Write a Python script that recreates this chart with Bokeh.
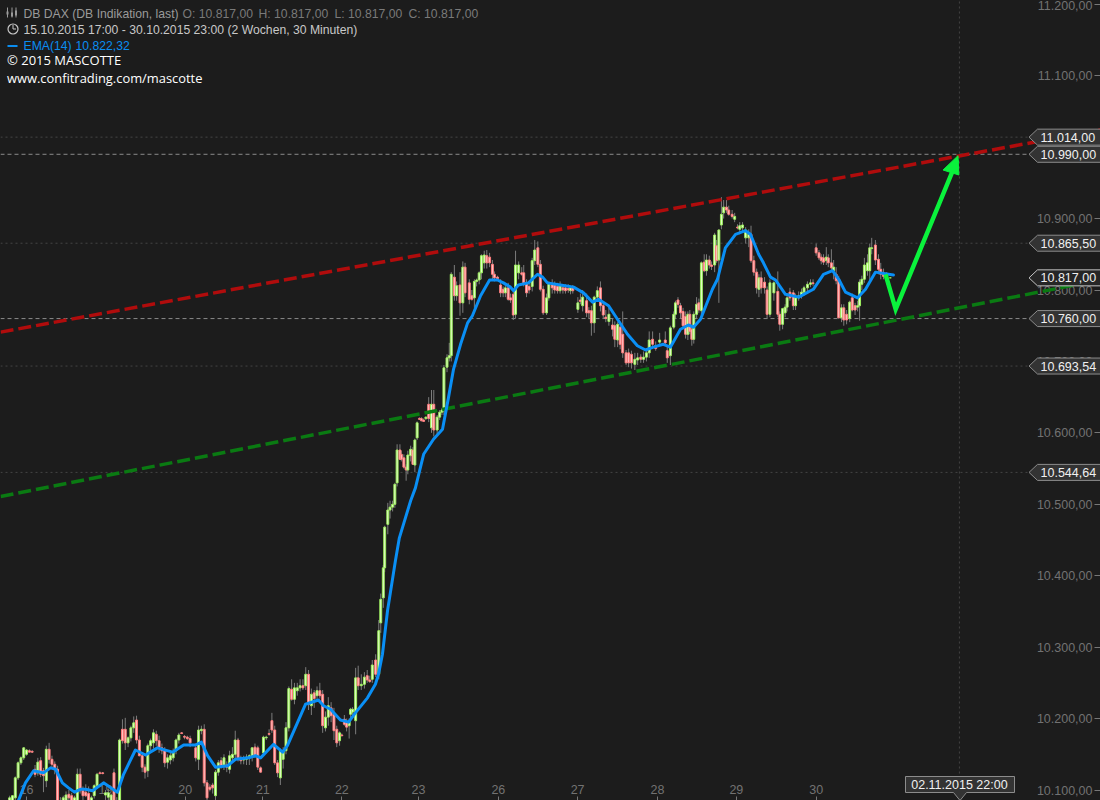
from bokeh.plotting import figure
from bokeh.embed import file_html
from bokeh.resources import INLINE
from bokeh.models import Range1d, LinearAxis, FixedTicker, Label, Span, ColumnDataSource

# ---- tick values and labels
price_ticks = [10100, 10200, 10300, 10400, 10500, 10600, 10700, 10800, 10900, 11000, 11100, 11200]
price_labels = ["10.100,00", "10.200,00", "10.300,00", "10.400,00", "10.500,00", "10.600,00",
                "10.700,00", "10.800,00", "10.900,00", "", "11.100,00", "11.200,00"]
day_ticks = [8, 36, 64.3, 91.8, 119.8, 147, 175.3, 203.4, 231.7, 259.7, 288]
day_labels = ["16", "19", "20", "21", "22", "23", "26", "27", "28", "29", "30"]

# ---- level tags
dotted_levels = [11014.00, 10865.50, 10693.54, 10544.64]
dashed_levels = [10990.00, 10760.00]
tag_values = [11014.00, 10990.00, 10865.50, 10760.00, 10693.54, 10544.64]
tag_labels = ["11.014,00", "10.990,00", "10.865,50", "10.760,00", "10.693,54", "10.544,64"]
last_value = 10817.00
last_label = "10.817,00"

# ---- 30 minute candles
bars = [2,3,4,5,6,7,8,9,10,11,
        12,13,14,15,16,17,18,19,20,21,
        22,23,24,25,26,27,28,29,30,31,
        32,33,34,35,36,37,38,39,40,41,
        42,43,44,45,46,47,48,49,50,51,
        52,53,54,55,56,57,58,59,60,61,
        62,63,64,65,66,
        68,69,70,71,72,73,74,75,76,77,
        78,79,80,81,82,83,84,85,86,87,
        88,89,90,91,92,93,94,95,96,97,
        98,99,100,101,102,103,104,105,106,107,
        108,109,110,111,112,113,114,115,116,117,
        118,119,119.8,120.7,121.5,122.4,122.9,123.6,124.7,125.6,
        126.7,127.8,128.8,129.7,130.6,131.8,132.9,133.6,134.5,135,
        136.1,136.9,137.8,138.6,139.4,140.4,140.9,141.8,142.6,143.2,
        144.2,145,145.7,146.5,147.3,148,148.8,149.6,150.6,151.6,
        152.4,153.6,154.5,155.3,156,157.1,157.9,158.6,159.7,160.5,
        161.7,162.7,163.5,165,165.9,166.8,167.6,168.5,169.3,170.3,
        171.2,172.2,173.2,173.9,175,176.1,177,177.8,178.8,179.6,
        180.6,181.4,182.5,183.6,184.3,185.3,186.2,187.3,188.2,189.3,
        190.2,191.2,192.4,193.2,194.4,195.3,196.3,197.2,198.2,199.1,
        200.1,200.9,201.7,203.5,204.4,205.2,206.6,207.4,208.3,209.3,
        210.4,211.5,212.5,213.4,214.5,215.8,216.6,217.6,218.5,219.4,
        220.6,221.5,222.5,223.7,224.7,225.8,226.8,227.8,228.8,230,
        231.1,232.5,234.5,235.2,236.3,237.5,238.1,239,239.9,240.8,
        241.7,242.5,243.2,243.9,244.6,245.6,246.4,247.3,248.3,249.1,
        250.1,250.9,252,252.7,253.5,254.4,255.2,256.2,257,258.2,
        259.1,260.1,260.9,261.9,263,264.1,264.9,265.9,266.9,267.7,
        268.5,269.7,270.6,271.6,273,274.4,275.1,276.1,277,277.7,
        278.7,279.9,280.7,281.8,282.8,283.7,284.9,286,286.9,288,
        289,289.8,290.6,291.6,292.3,293.4,294.2,295.1,296,297,
        297.8,298.8,299.9,300.8,301.8,302.7,303.4,304.2,305.1,306.2,
        307,307.7,309,310.1,310.9,311.9,313,314.3]

opens = [10083,10085,10089,10117,10138,10145,10150,10155,10154,10129,
         10124,10141,10127,10113,10157,10143,10136,10129,10085,10076,
         10085,10094,10092,10073,10085,10122,10099,10097,10095,10078,
         10092,10106,10124,10124,10093,10090,10085,10124,10085,10078,
         10185,10185,10166,10173,10187,10198,10170,10148,10132,10127,
         10162,10166,10178,10169,10159,10155,10139,10142,10145,10155,
         10170,10180,10175,10174,10172,
         10159,10143,10183,10185,10110,10104,10107,10092,10125,10141,
         10135,10135,10129,10145,10150,10170,10145,10142,10143,10145,
         10148,10160,10159,10131,10152,10173,10179,10197,10184,10138,
         10117,10143,10155,10187,10241,10227,10239,10243,10246,10246,
         10262,10218,10236,10232,10239,10234,10187,10202,10215,10206,
         10185,10169,10177,10199,10194,10190,10206,10209,10197,10257,
         10246,10248,10260,10254,10255,10282,10262,10334,10369,10411,
         10472,10492,10496,10500,10530,10576,10570,10565,10552,10548,
         10568,10576,10555,10593,10620,10620,10618,10620,10640,10607,
         10640,10604,10622,10629,10631,10692,10705,10708,10818,10792,
         10807,10782,10832,10810,10792,10789,10812,10814,10824,10838,
         10848,10846,10836,10822,10818,10807,10801,10796,10803,10789,
         10794,10766,10824,10824,10824,10810,10805,10805,10841,10859,
         10836,10801,10768,10789,10808,10807,10805,10799,10803,10803,
         10802,10799,10803,10773,10786,10778,10785,10771,10771,10754,
         10790,10803,10778,10762,10756,10751,10750,10730,10748,10738,
         10712,10712,10710,10696,10702,10706,10703,10706,10712,10731,
         10722,10727,10730,10715,10708,10748,10766,10786,10778,10770,
         10763,10738,10766,10745,10731,10766,10782,10771,10839,10827,
         10842,10835,10835,10862,10842,10891,10908,10916,10912,10906,
         10899,10888,10885,10887,10873,10873,10878,10841,10825,10801,
         10817,10811,10800,10766,10796,10798,10766,10752,10768,10776,
         10797,10796,10778,10789,10792,10797,10803,10808,10810,10859,
         10852,10846,10845,10841,10845,10838,10827,10822,10815,10761,
         10775,10766,10760,10789,10778,10776,10778,10808,10815,10827,
         10827,10858,10863,10843,10829,10822,10818,10817]

highs = [10092,10093,10119,10140,10147,10160,10157,10157,10156,10135,
         10145,10146,10131,10162,10166,10148,10140,10134,10090,10092,
         10098,10100,10096,10092,10130,10130,10105,10108,10105,10092,
         10108,10124,10126,10125,10100,10102,10095,10130,10090,10172,
         10199,10201,10175,10190,10203,10204,10176,10152,10136,10165,
         10172,10185,10183,10176,10165,10160,10150,10153,10158,10172,
         10180,10181,10177,10176,10176,
         10165,10190,10190,10192,10114,10108,10110,10128,10142,10146,
         10150,10140,10155,10160,10183,10173,10148,10148,10150,10150,
         10160,10165,10162,10133,10176,10176,10185,10208,10190,10142,
         10158,10160,10195,10245,10255,10250,10250,10255,10255,10272,
         10268,10242,10240,10245,10250,10240,10210,10230,10223,10215,
         10190,10182,10179,10205,10200,10200,10215,10216,10271,10274,
         10262,10265,10268,10260,10282,10290,10338,10375,10415,10470,
         10502,10505,10505,10530,10584,10584,10575,10570,10556,10575,
         10582,10580,10592,10616,10622,10622,10620,10623,10650,10660,
         10660,10625,10632,10635,10695,10710,10726,10825,10835,10812,
         10825,10840,10838,10815,10800,10815,10816,10826,10850,10855,
         10856,10852,10842,10826,10820,10815,10805,10808,10810,10795,
         10798,10855,10840,10832,10835,10815,10810,10845,10870,10868,
         10842,10806,10795,10812,10815,10812,10810,10812,10808,10808,
         10808,10806,10807,10790,10795,10800,10795,10776,10778,10792,
         10805,10812,10782,10772,10775,10760,10756,10755,10755,10770,
         10716,10718,10715,10712,10712,10710,10714,10716,10742,10742,
         10728,10740,10742,10722,10750,10770,10785,10790,10782,10775,
         10770,10770,10772,10750,10770,10790,10788,10840,10850,10850,
         10848,10840,10880,10870,10885,10930,10926,10926,10918,10912,
         10908,10892,10895,10895,10888,10885,10890,10848,10830,10822,
         10826,10818,10805,10815,10812,10826,10770,10775,10780,10795,
         10803,10800,10795,10798,10802,10806,10812,10815,10815,10865,
         10856,10850,10850,10860,10850,10857,10842,10832,10820,10780,
         10780,10772,10785,10795,10782,10785,10815,10820,10845,10850,
         10865,10873,10870,10850,10838,10830,10825,10817]

lows = [10081,10084,10086,10114,10135,10142,10148,10153,10152,10118,
        10120,10118,10097,10104,10137,10132,10122,10075,10060,10070,
        10080,10085,10075,10068,10080,10095,10085,10090,10075,10072,
        10088,10102,10122,10122,10088,10086,10075,10075,10055,10070,
        10165,10156,10160,10168,10180,10165,10147,10125,10116,10118,
        10155,10158,10162,10152,10150,10132,10130,10136,10140,10150,
        10165,10179,10171,10170,10160,
        10140,10128,10178,10105,10080,10098,10095,10083,10120,10130,
        10128,10125,10123,10140,10142,10140,10136,10136,10135,10135,
        10140,10145,10128,10124,10150,10170,10176,10180,10135,10118,
        10107,10130,10150,10182,10225,10220,10232,10238,10240,10240,
        10212,10205,10215,10224,10228,10180,10182,10190,10195,10170,
        10160,10162,10175,10190,10182,10172,10200,10205,10178,10240,
        10240,10242,10250,10250,10250,10258,10255,10320,10355,10405,
        10458,10480,10490,10495,10525,10562,10560,10550,10533,10542,
        10560,10555,10545,10590,10618,10616,10616,10618,10615,10600,
        10595,10598,10618,10625,10625,10685,10700,10700,10785,10785,
        10764,10768,10790,10780,10785,10775,10805,10808,10815,10830,
        10830,10832,10815,10812,10815,10790,10790,10790,10785,10782,
        10758,10760,10815,10820,10805,10790,10795,10798,10835,10832,
        10798,10765,10765,10785,10795,10795,10795,10795,10795,10795,
        10796,10794,10795,10768,10780,10770,10762,10760,10736,10740,
        10785,10770,10760,10755,10750,10735,10720,10720,10717,10705,
        10695,10692,10690,10688,10695,10698,10698,10700,10705,10720,
        10715,10722,10722,10698,10695,10745,10760,10775,10760,10745,
        10732,10730,10738,10722,10725,10760,10768,10765,10825,10820,
        10830,10828,10825,10838,10782,10885,10900,10908,10904,10900,
        10895,10885,10878,10880,10865,10860,10838,10820,10795,10790,
        10795,10795,10760,10762,10785,10762,10743,10745,10762,10770,
        10785,10772,10772,10785,10788,10792,10798,10804,10806,10848,
        10842,10836,10835,10835,10832,10825,10815,10808,10760,10755,
        10750,10752,10755,10770,10765,10770,10757,10800,10810,10820,
        10810,10850,10835,10822,10815,10815,10812,10817]

closes = [10089,10092,10117,10138,10145,10159,10156,10153,10153,10122,
          10139,10122,10120,10157,10143,10136,10129,10082,10064,10089,
          10093,10089,10082,10089,10122,10099,10092,10092,10078,10089,
          10106,10122,10123,10123,10096,10096,10093,10082,10060,10170,
          10169,10166,10173,10187,10194,10170,10148,10132,10125,10162,
          10169,10180,10169,10159,10155,10138,10145,10148,10153,10170,
          10177,10179,10174,10172,10166,
          10145,10184,10185,10110,10089,10101,10103,10125,10138,10134,
          10145,10132,10148,10150,10170,10145,10141,10145,10146,10148,
          10159,10148,10132,10125,10174,10174,10178,10184,10138,10124,
          10155,10155,10187,10242,10227,10243,10243,10246,10243,10262,
          10220,10234,10228,10239,10232,10190,10202,10218,10204,10183,
          10166,10180,10176,10192,10188,10197,10213,10213,10257,10246,
          10248,10258,10254,10252,10275,10262,10323,10367,10411,10468,
          10492,10496,10500,10528,10576,10563,10563,10552,10548,10569,
          10577,10556,10590,10614,10619,10617,10616,10622,10620,10640,
          10604,10622,10629,10632,10691,10705,10708,10822,10792,10806,
          10782,10832,10796,10787,10787,10812,10814,10824,10848,10849,
          10838,10838,10822,10817,10816,10796,10796,10803,10787,10786,
          10765,10835,10835,10822,10810,10796,10800,10841,10856,10836,
          10801,10768,10789,10808,10803,10800,10799,10806,10800,10799,
          10800,10803,10799,10782,10784,10790,10768,10768,10754,10790,
          10799,10778,10765,10760,10766,10745,10731,10752,10724,10712,
          10698,10698,10698,10703,10705,10703,10706,10712,10730,10724,
          10718,10730,10726,10705,10747,10766,10782,10780,10768,10750,
          10738,10766,10742,10731,10766,10780,10772,10838,10827,10842,
          10835,10833,10877,10841,10884,10906,10916,10912,10906,10903,
          10903,10887,10890,10891,10884,10878,10841,10825,10803,10817,
          10803,10803,10766,10810,10810,10766,10752,10774,10776,10789,
          10789,10778,10789,10792,10797,10803,10808,10810,10809,10852,
          10845,10841,10839,10846,10838,10831,10832,10813,10761,10775,
          10758,10758,10783,10772,10772,10778,10811,10815,10835,10838,
          10859,10859,10842,10829,10822,10819,10821,10817]

assert len(bars) == len(opens) == len(highs) == len(lows) == len(closes), (len(bars), len(opens), len(highs), len(lows), len(closes))

# ---- EMA(14)
ema_bars = [5.1,7.6,10.5,14,16.5,18.3,20.7,22.9,25,27.1,28.9,31.4,35.3,40.2,42.4,46.6,50.2,54.4,59.8,63.7,
            67.9,70,72.2,75,79.3,82.1,86.7,89.2,91,95.6,98.8,100.5,106.9,111.5,113.3,115.8,119.3,122.2,124.6,128.9,
            131.7,132.8,134.2,136,138.8,140.2,144.2,145.9,148.8,152.3,155.5,157.6,159.4,161.9,164.4,166.1,169,172.2,175,177.1,
            179.6,180.7,182.4,186,189.2,191,192.7,197.3,202,205.5,208.7,210.8,214.4,217.9,221.1,224.6,227.5,230.3,233.8,236.3,
            239.9,242.7,244.5,247,251.2,253,255.8,259.4,262.9,264.7,267.6,269.3,271.8,273.6,277.1,281.8,287,290.6,293.8,296,
            298.4,302.7,305.5,309,315.4]
ema_values = [10085,10110,10127,10124,10131,10129,10110,10103,10097,10101,10101,10099,10110,10097,10122,10156,10149,10159,10153,10163,
              10163,10167,10148,10132,10134,10143,10145,10148,10145,10164,10153,10162,10220,10226,10218,10213,10198,10195,10208,10229,
              10248,10262,10290,10351,10421,10453,10505,10523,10570,10591,10605,10649,10689,10724,10754,10764,10792,10814,10814,10810,
              10804,10799,10807,10810,10822,10818,10810,10807,10804,10796,10783,10787,10778,10757,10738,10722,10716,10720,10724,10720,
              10745,10751,10748,10759,10801,10815,10859,10878,10883,10878,10850,10838,10818,10814,10794,10790,10801,10822,10827,10815,
              10797,10789,10801,10825,10821]

# ---- drawn trend lines (bar, price)
red_bars = [-1.2, 388.8]
red_prices = [10741, 11024]
green_bars = [-1.2, 388.8]
green_prices = [10511, 10814]
arrow_bars = [312.6, 316.2, 338.0]
arrow_prices = [10822, 10773, 10982]
head_bars = [338.3, 333.0, 338.6]
head_prices = [10988, 10968, 10961]
cursor_bar = 338.8
cursor_label = "02.11.2015 22:00"

# ---- scales: bar and price to the frame
BAR_X0, BAR_STEP = 3.5, 2.82
P_BASE, P_ROW, P_STEP = 10100, 789.5, 1.4
def bx(px):
    return (px - BAR_X0) / BAR_STEP
def py(row):
    return P_BASE + P_STEP * (P_ROW - row)

BG = "#1c1c1c"
FONT = "Liberation Sans"
p = figure(width=1100, height=800, output_backend="svg", toolbar_location=None,
           x_range=Range1d(bx(0), bx(1100)), y_range=Range1d(py(800), py(0)),
           x_axis_type=None, y_axis_type=None, min_border=0,
           background_fill_color=BG, border_fill_color=BG, outline_line_color=None,
           styles={"position": "fixed", "left": "0px", "top": "0px", "background-color": BG})

# ---- axes drawn inside the frame, below every mark
yax = LinearAxis(ticker=FixedTicker(ticks=price_ticks),
                 major_label_overrides=dict(zip(price_ticks, price_labels)),
                 fixed_location=bx(1100), axis_line_color=None,
                 major_tick_in=0, major_tick_out=6, major_tick_line_color="#777777",
                 minor_tick_line_color=None, major_label_standoff=2,
                 major_label_text_color="#727272", major_label_text_font=FONT,
                 major_label_text_font_size="12.5px", level="underlay")
p.add_layout(yax, "left")
xax = LinearAxis(ticker=FixedTicker(ticks=day_ticks),
                 major_label_overrides=dict(zip(day_ticks, day_labels)),
                 fixed_location=py(800), axis_line_color=None,
                 major_tick_in=0, major_tick_out=4, major_tick_line_color="#777777",
                 minor_tick_line_color=None, major_label_standoff=3,
                 major_label_text_color="#727272", major_label_text_font=FONT,
                 major_label_text_font_size="12.5px", level="underlay")
p.add_layout(xax, "above")

# ---- level lines
for lv in dotted_levels:
    p.add_layout(Span(location=lv, dimension="width", line_color="#444444", line_width=1,
                      line_dash="2 3", level="underlay"))
for lv in dashed_levels:
    p.add_layout(Span(location=lv, dimension="width", line_color="#8a8a8a", line_width=1,
                      line_dash="4 3", level="underlay"))
p.segment([cursor_bar], [py(778)], [cursor_bar], [py(0)], line_color="#444444", line_width=1, line_dash="2 3")

# ---- candles
src = ColumnDataSource(dict(
    x=bars, o=opens, h=highs, l=lows, c=closes,
    top=[max(a, b) for a, b in zip(opens, closes)],
    bot=[min(a, b) for a, b in zip(opens, closes)],
    edge=["#9cee5c" if c >= o else "#ff7c7c" for o, c in zip(opens, closes)],
    core=["#eaffd4" if c >= o else "#ffc8c8" for o, c in zip(opens, closes)],
))
p.segment("x", "h", "x", "l", source=src, line_color="#7c7c7c", line_width=1)
p.vbar(x="x", top="top", bottom="bot", width=0.68, source=src, fill_color="core", line_color="edge", line_width=1)

# ---- trend lines
p.line(red_bars, red_prices, line_color="#b00c0c", line_width=3.5, line_dash="13 5")
p.line(green_bars, green_prices, line_color="#0a7a12", line_width=3.5, line_dash="13 5")

# ---- EMA
p.line(ema_bars, ema_values, line_color="#0a8ff5", line_width=3, line_join="round", line_cap="round")

# ---- hand drawn arrow
p.line(arrow_bars, arrow_prices, line_color="#0af23c", line_width=4.5, line_join="miter")
p.patch(head_bars, head_prices, fill_color="#0af23c", line_color="#0af23c")

# ---- price tags
def tag(value, label, fill="#333333", edge="#8c8c8c", color="#f0f0f0"):
    mid = P_ROW - (value - P_BASE) / P_STEP
    xs = [bx(1028.5), bx(1037), bx(1102), bx(1102), bx(1037)]
    ys = [py(mid), py(mid - 8), py(mid - 8), py(mid + 8), py(mid + 8)]
    p.patch(xs, ys, fill_color=fill, line_color=edge, line_width=1)
    p.text([bx(1040)], [value], text=[label], text_color=color, text_font={"value": FONT},
           text_font_size="12.5px", text_baseline="middle", text_align="left")

for v, lab in zip(tag_values, tag_labels):
    tag(v, lab)
tag(last_value, last_label, fill="#262626", edge="#c4c4c4")

# ---- cursor date tag
p.patch([bx(905), bx(1014), bx(1014), bx(966), bx(959.5), bx(953), bx(905)],
        [py(776), py(776), py(792), py(792), py(800), py(792), py(792)],
        fill_color="#333333", line_color="#8c8c8c", line_width=1)
p.text([cursor_bar], [py(784)], text=[cursor_label], text_color="#f0f0f0", text_font={"value": FONT},
       text_font_size="12.5px", text_baseline="middle", text_align="center")

# ---- header
def head(x, row, text, color, font=FONT, size="12.2px"):
    p.add_layout(Label(x=x, y=800 - row, x_units="screen", y_units="screen", text=text,
                       text_color=color, text_font=font, text_font_size=size,
                       text_baseline="alphabetic", level="overlay"))

head(23, 13, "DB DAX (DB Indikation, last)", "#9a9a9a")
head(182, 13, "O: 10.817,00", "#7a7a7a")
head(258, 13, "H: 10.817,00", "#7a7a7a")
head(334, 13, "L: 10.817,00", "#7a7a7a")
head(408, 13, "C: 10.817,00", "#7a7a7a")
head(23, 29, "15.10.2015 17:00 - 30.10.2015 23:00 (2 Wochen, 30 Minuten)", "#c8c8c8")
head(23, 45, "EMA(14)", "#0a8df0")
head(75, 45, "10.822,32", "#0a8df0")
head(6.5, 59, "© 2015 MASCOTTE", "#ffffff", "Open Sans", "13px")
head(6.5, 77, "www.confitrading.com/mascotte", "#ffffff", "Open Sans", "12.9px")

# ---- header icons
p.quad(left=[bx(7)], right=[bx(17)], bottom=[py(46.5)], top=[py(44.5)], fill_color="#0a8df0", line_color=None)
p.scatter([bx(12.5)], [py(28.5)], size=10, marker="circle", fill_color=None, line_color="#c8c8c8", line_width=1.2)
p.segment([bx(12.5), bx(12.5)], [py(24.5), py(28.5)], [bx(12.5), bx(15.5)], [py(28.5), py(28.5)],
          line_color="#c8c8c8", line_width=1)
p.segment([bx(7), bx(11.5), bx(15.5)], [py(7), py(7), py(7)], [bx(7), bx(11.5), bx(15.5)], [py(17), py(17), py(17)],
          line_color="#9a9a9a", line_width=1)
p.quad(left=[bx(6), bx(10.5), bx(14.5)], right=[bx(8), bx(12.5), bx(16.5)],
       bottom=[py(14), py(16), py(15)], top=[py(11), py(12), py(10)], fill_color="#9a9a9a", line_color=None)

open("out.html", "w").write(file_html(p, INLINE))
